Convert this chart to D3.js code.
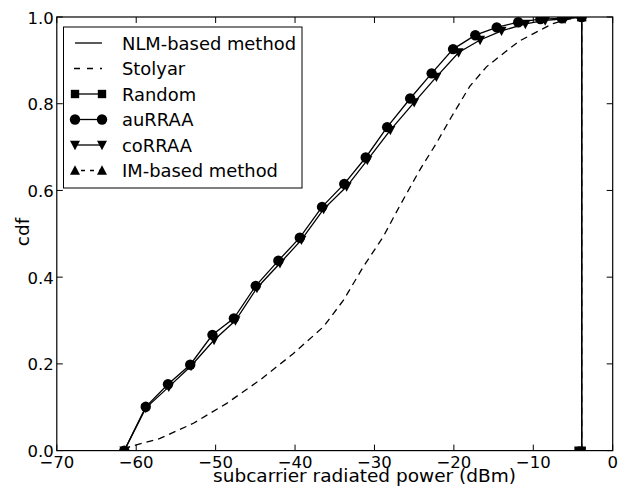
<!DOCTYPE html>
<html><head><meta charset="utf-8">
<script src="https://cdn.jsdelivr.net/npm/d3@7"></script>
<style>body{margin:0;background:#fff}svg{display:block}text{font-family:"DejaVu Sans",sans-serif;}</style>
</head><body><svg id="c" width="621" height="489"></svg>
<script>
const xTicks = [-70,-60,-50,-40,-30,-20,-10,0];
const yTicks = [0.0,0.2,0.4,0.6,0.8,1.0];
const legendNames = ["NLM-based method","Stolyar","Random","auRRAA","coRRAA","IM-based method"];
const nlmX = [-3.9,-3.9];
const nlmY = [0,1.0];
const stolyarX = [-61.5,-60.8,-57,-52.8,-48.6,-44.4,-40.2,-36.4,-33.9,-31.4,-28.9,-26.8,-24.3,-22.2,-20.3,-18,-15.9,-13.5,-11.7,-9.1,-7.5,-5.5,-4];
const stolyarY = [0,0.009,0.028,0.063,0.109,0.163,0.224,0.286,0.347,0.424,0.493,0.565,0.647,0.709,0.770,0.840,0.885,0.920,0.945,0.970,0.985,0.995,1.0];
const randomX = [-4.3,-3.9,-3.9];
const randomY = [0,0,1.0];
const auX = [-61.5,-58.8,-56.0,-53.2,-50.4,-47.7,-44.95,-42.1,-39.4,-36.6,-33.8,-31.1,-28.4,-25.5,-22.8,-20.1,-17.3,-14.6,-11.9,-9.1,-6.4,-3.9];
const auY = [0,0.101,0.153,0.198,0.267,0.305,0.380,0.438,0.491,0.562,0.615,0.676,0.746,0.812,0.870,0.926,0.958,0.976,0.988,0.995,0.997,1.0];
const coX = [-61.5,-58.8,-55.9,-53.1,-50.2,-47.5,-44.8,-41.9,-39.2,-36.4,-33.5,-30.9,-28.0,-25.0,-22.2,-19.4,-16.7,-14.0,-11.0,-8.5,-6.0,-3.9];
const coY = [0,0.098,0.147,0.195,0.255,0.300,0.375,0.432,0.486,0.557,0.609,0.670,0.739,0.803,0.862,0.918,0.947,0.968,0.984,0.992,0.996,1.0];
const imX = [-3.9,-3.9];
const imY = [0,1.0];

const svg = d3.select("#c");
const L=56.8, R=612.7, T=17, B=450.6;
const x = d3.scaleLinear().domain([-70,0]).range([L,R]);
const y = d3.scaleLinear().domain([0,1]).range([B,T]);
const fsTick = 16.5, fsLab = 18.5, fsLeg = 17.9;

svg.append("defs").append("clipPath").attr("id","clip").append("rect")
  .attr("x",L).attr("y",T).attr("width",R-L).attr("height",B-T);
const g = svg.append("g").attr("clip-path","url(#clip)");

const zip = (xs,ys)=>xs.map((v,i)=>[v,ys[i]]);
const line = d3.line().x(d=>x(d[0])).y(d=>y(d[1]));

function series(data, dash, marker){
  g.append("path").attr("d",line(data)).attr("fill","none").attr("stroke","#000")
   .attr("stroke-width",1.3).attr("stroke-dasharray",dash||null);
  if(marker){
    g.selectAll(null).data(data).enter().append("path")
     .attr("transform",d=>`translate(${x(d[0])},${y(d[1])})`)
     .attr("d",markerPath(marker)).attr("fill","#000");
  }
}
function markerPath(m){
  if(m==="square") return d3.symbol(d3.symbolSquare,70)();
  if(m==="circle") return d3.symbol(d3.symbolCircle,85)();
  if(m==="tridown") return "M-5,-4.2 L5,-4.2 L0,5.2 Z";
  if(m==="triup") return "M-5,4.2 L5,4.2 L0,-5.2 Z";
}

series(zip(stolyarX,stolyarY),"7,5",null);
series(zip(imX,imY),"7,5","triup");
series(zip(coX,coY),null,"tridown");
series(zip(auX,auY),null,"circle");
series(zip(nlmX,nlmY),null,null);
series(zip(randomX,randomY),null,"square");

// frame
svg.append("rect").attr("x",L).attr("y",T).attr("width",R-L).attr("height",B-T)
  .attr("fill","none").attr("stroke","#000").attr("stroke-width",1.2);

// ticks (inward, all sides)
const tl=6;
xTicks.forEach(t=>{
  const px=x(t);
  svg.append("line").attr("x1",px).attr("x2",px).attr("y1",B).attr("y2",B-tl).attr("stroke","#000");
  svg.append("line").attr("x1",px).attr("x2",px).attr("y1",T).attr("y2",T+tl).attr("stroke","#000");
  svg.append("text").attr("x",px).attr("y",B+17.5).attr("text-anchor","middle")
    .attr("font-size",fsTick).text(t<0?"\u2212"+Math.abs(t):String(t));
});
yTicks.forEach(t=>{
  const py=y(t);
  svg.append("line").attr("x1",L).attr("x2",L+tl).attr("y1",py).attr("y2",py).attr("stroke","#000");
  svg.append("line").attr("x1",R).attr("x2",R-tl).attr("y1",py).attr("y2",py).attr("stroke","#000");
  svg.append("text").attr("x",L-3).attr("y",py+6.5).attr("text-anchor","end")
    .attr("font-size",fsTick).text(t.toFixed(1));
});

svg.append("text").attr("x",364.5).attr("y",482).attr("text-anchor","middle")
  .attr("font-size",fsLab).text("subcarrier radiated power (dBm)");
svg.append("text").attr("transform",`translate(29,232) rotate(-90)`)
  .attr("text-anchor","middle").attr("font-size",fsLab).text("cdf");

// legend
const lg = svg.append("g");
lg.append("rect").attr("x",63.5).attr("y",27).attr("width",238.5).attr("height",161)
  .attr("fill","#fff").attr("stroke","#000").attr("stroke-width",1);
const styles = [
  {dash:null,m:null},{dash:"6,5",m:null},{dash:null,m:"square"},
  {dash:null,m:"circle"},{dash:null,m:"tridown"},{dash:"6,5",m:"triup"}];
legendNames.forEach((n,i)=>{
  const cy = 43 + i*25.5;
  const x1=75, x2=102;
  const s=styles[i];
  if(s.m==="triup"){
    lg.append("line").attr("x1",x1).attr("x2",x2).attr("y1",cy).attr("y2",cy)
      .attr("stroke","#000").attr("stroke-width",1.3).attr("stroke-dasharray","4,5").attr("stroke-dashoffset",-6);
  } else if(s.dash){
    lg.append("line").attr("x1",x1-1).attr("x2",x2).attr("y1",cy).attr("y2",cy)
      .attr("stroke","#000").attr("stroke-width",1.3).attr("stroke-dasharray","6,7");
  } else {
    lg.append("line").attr("x1",x1).attr("x2",x2).attr("y1",cy).attr("y2",cy)
      .attr("stroke","#000").attr("stroke-width",1.3);
  }
  if(s.m){
    [x1,x2].forEach(px=>lg.append("path").attr("transform",`translate(${px},${cy})`)
      .attr("d",markerPath(s.m)).attr("fill","#000"));
  }
  lg.append("text").attr("x",122).attr("y",cy+6.5).attr("font-size",fsLeg).text(n);
});
</script></body></html>
